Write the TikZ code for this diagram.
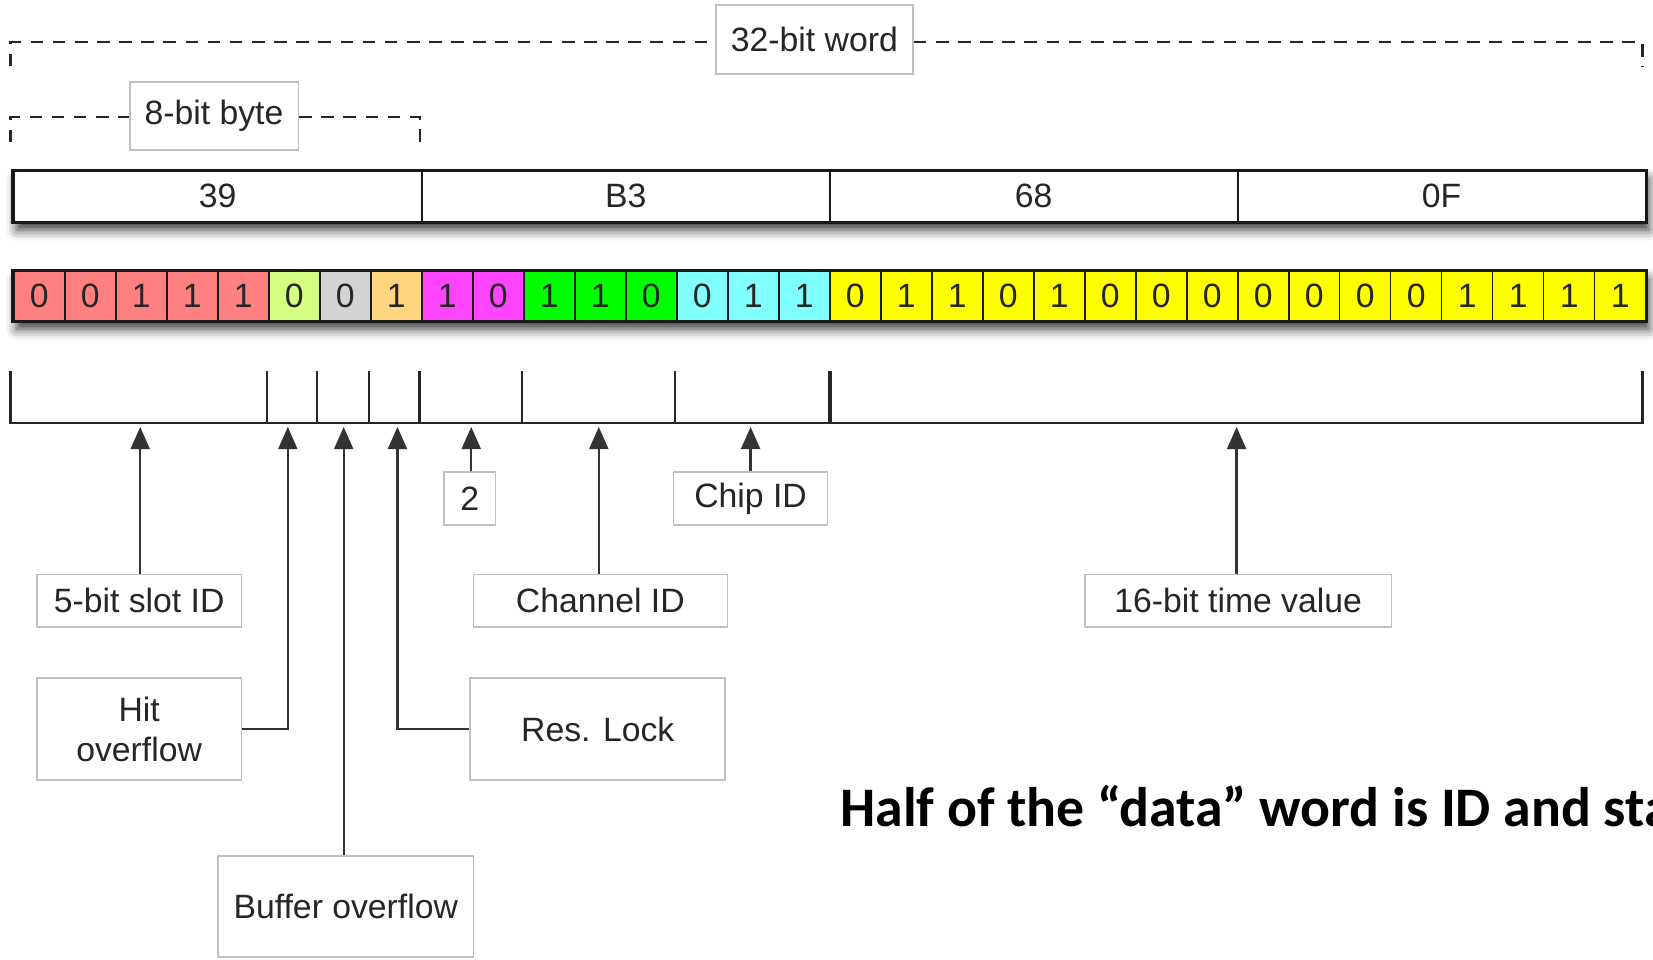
\documentclass[tikz,border=0pt]{standalone}
\usepackage{fontspec}
\usetikzlibrary{arrows.meta,shadows.blur,calc}
\newfontfamily\labfont{Liberation Sans}
\newfontfamily\calfont{Carlito}
\definecolor{bitred}{HTML}{FF8080}
\definecolor{bitlime}{HTML}{D4FF80}
\definecolor{bitgray}{HTML}{D3D3D3}
\definecolor{bitorange}{HTML}{FFD580}
\definecolor{bitmag}{HTML}{FF44FF}
\definecolor{bitgreen}{HTML}{00FF00}
\definecolor{bitcyan}{HTML}{80FFFF}
\definecolor{bityel}{HTML}{FFFF00}
\newlength\notewd
\newsavebox\notebox
\begin{document}
% caption size: the run up to "and" spans 712pt
\sbox\notebox{\calfont\bfseries\fontsize{10}{12}\selectfont Half of the “data” word is ID and}%
\setlength\notewd{\wd\notebox}%
\pgfmathsetmacro\notesz{10*712/\notewd}%
\begin{tikzpicture}[x=1pt,y=-1pt,
  lbl/.style={draw=black!25, line width=1.6pt, fill=white, inner sep=0pt,
    font=\labfont\fontsize{32}{38}\selectfont, text=black!85, align=center},
  cell/.style={draw=black!90, line width=1.6pt, inner sep=0pt, minimum height=47pt,
    font=\labfont\fontsize{32}{38}\selectfont, text=black!85},
  bytecell/.style={draw=black!90, line width=1.6pt, inner sep=0pt, minimum height=48pt,
    minimum width=387pt, font=\labfont\fontsize{32}{38}\selectfont, text=black!85},
  rowshadow/.style={blur shadow={shadow xshift=3pt, shadow yshift=-8pt,
    shadow blur radius=10pt, shadow opacity=80}},
  rowframe/.style={line width=2.6pt, draw=black!90},
  arr/.style={line width=2.2pt, draw=black!80, -{Triangle[length=21pt,width=18pt]}},
  dsh/.style={line width=2pt, draw=black!85, dash pattern=on 12pt off 9pt},
  brk/.style={line width=2.1pt, draw=black!85},
]
\useasboundingbox (0,0) rectangle (1568,910);

% --- range markers above the rows
\node[lbl, minimum width=187pt, minimum height=65pt] (w32) at (772.5,37.5) {32-bit word};
\node[lbl, minimum width=160pt, minimum height=64pt] (b8) at (203,110) {8-bit byte};
\coordinate (w32l) at (10,40);
\coordinate (w32r) at (1558,40);
\coordinate (b8l) at (10,111);
\coordinate (b8r) at (398,111);
\draw[dsh] (10,63) -- (w32l) -- (w32.west |- w32l);
\draw[dsh] (w32.east |- w32r) -- (w32r) -- (1558,63);
\draw[dsh] (10,135) -- (b8l) -- (b8.west |- b8l);
\draw[dsh] (b8.east |- b8r) -- (b8r) -- (398,135);

% --- byte row
\fill[white, rowshadow] (13,162) rectangle (1561,210);
\foreach \v [count=\j from 0] in {39,B3,68,0F}
  \node[bytecell] (byte\j) at ({13+387*(\j+0.5)},186) {\v};
\draw[rowframe] (byte0.north west) rectangle (byte3.south east);

% --- bit row
\fill[white, rowshadow] (13,257) rectangle (1561,304);
\foreach \b/\c [count=\i from 0] in {
  0/bitred,0/bitred,1/bitred,1/bitred,1/bitred,0/bitlime,0/bitgray,1/bitorange,
  1/bitmag,0/bitmag,1/bitgreen,1/bitgreen,0/bitgreen,0/bitcyan,1/bitcyan,1/bitcyan,
  0/bityel,1/bityel,1/bityel,0/bityel,1/bityel,0/bityel,0/bityel,0/bityel,
  0/bityel,0/bityel,0/bityel,0/bityel,1/bityel,1/bityel,1/bityel,1/bityel}
  \node[cell, fill=\c, minimum width=48.375pt] (bit\i) at ({13+48.375*(\i+0.5)},280.5) {\b};
\draw[rowframe] (bit0.north west) rectangle (bit31.south east);

% --- field bracket
\draw[brk] (10,352) -- (10,401) -- (1558,401) -- (1558,352);
\foreach \x in {253,301,350,398,495,640}
  \draw[brk] (\x,352) -- (\x,401);
\draw[line width=3.8pt, draw=black!85] (787,352) -- (787,401);

% --- field labels
\node[lbl, minimum width=194pt, minimum height=50pt] (slot) at (132,570) {5-bit slot ID};
\node[lbl, minimum width=194pt, minimum height=97pt] (hit) at (132,691.5) {Hit\\overflow};
\node[lbl, minimum width=242pt, minimum height=96pt] (buf) at (328,860) {Buffer overflow};
\node[lbl, minimum width=242pt, minimum height=97pt] (res) at (567,691.5) {Res. Lock};
\node[lbl, minimum width=49pt, minimum height=50pt] (two) at (445.5,473) {2};
\node[lbl, minimum width=241pt, minimum height=50pt] (chan) at (569.5,570) {Channel ID};
\node[lbl, minimum width=146pt, minimum height=50pt] (chip) at (712,473) {Chip ID};
\node[lbl, minimum width=291pt, minimum height=50pt] (time) at (1174.5,570) {16-bit time value};

% --- arrow targets just below the bracket
\coordinate (tslot) at (133,405);
\coordinate (thit)  at (273,405);
\coordinate (tbuf)  at (326,405);
\coordinate (tres)  at (377,405);
\coordinate (ttwo)  at (447,405);
\coordinate (tchan) at (568,405);
\coordinate (tchip) at (712,405);
\coordinate (ttime) at (1173,405);

\draw[arr] (slot.north -| tslot) -- (tslot);
\draw[arr] (hit.east) -| (thit);
\draw[arr] (buf.north -| tbuf) -- (tbuf);
\draw[arr] (res.west) -| (tres);
\draw[arr] (two.north -| ttwo) -- (ttwo);
\draw[arr] (chan.north -| tchan) -- (tchan);
\draw[arr] (chip.north -| tchip) -- (tchip);
\draw[arr] (time.north -| ttime) -- (ttime);

% --- caption, running off the right edge
\begin{scope}
  \clip (0,0) rectangle (1568,910);
  \node[anchor=base west, inner sep=0pt,
    font=\calfont\bfseries\fontsize{\notesz}{\notesz}\selectfont] (note) at (797,784)
    {Half of the “data” word is ID and sta};
\end{scope}
\end{tikzpicture}
\end{document}
